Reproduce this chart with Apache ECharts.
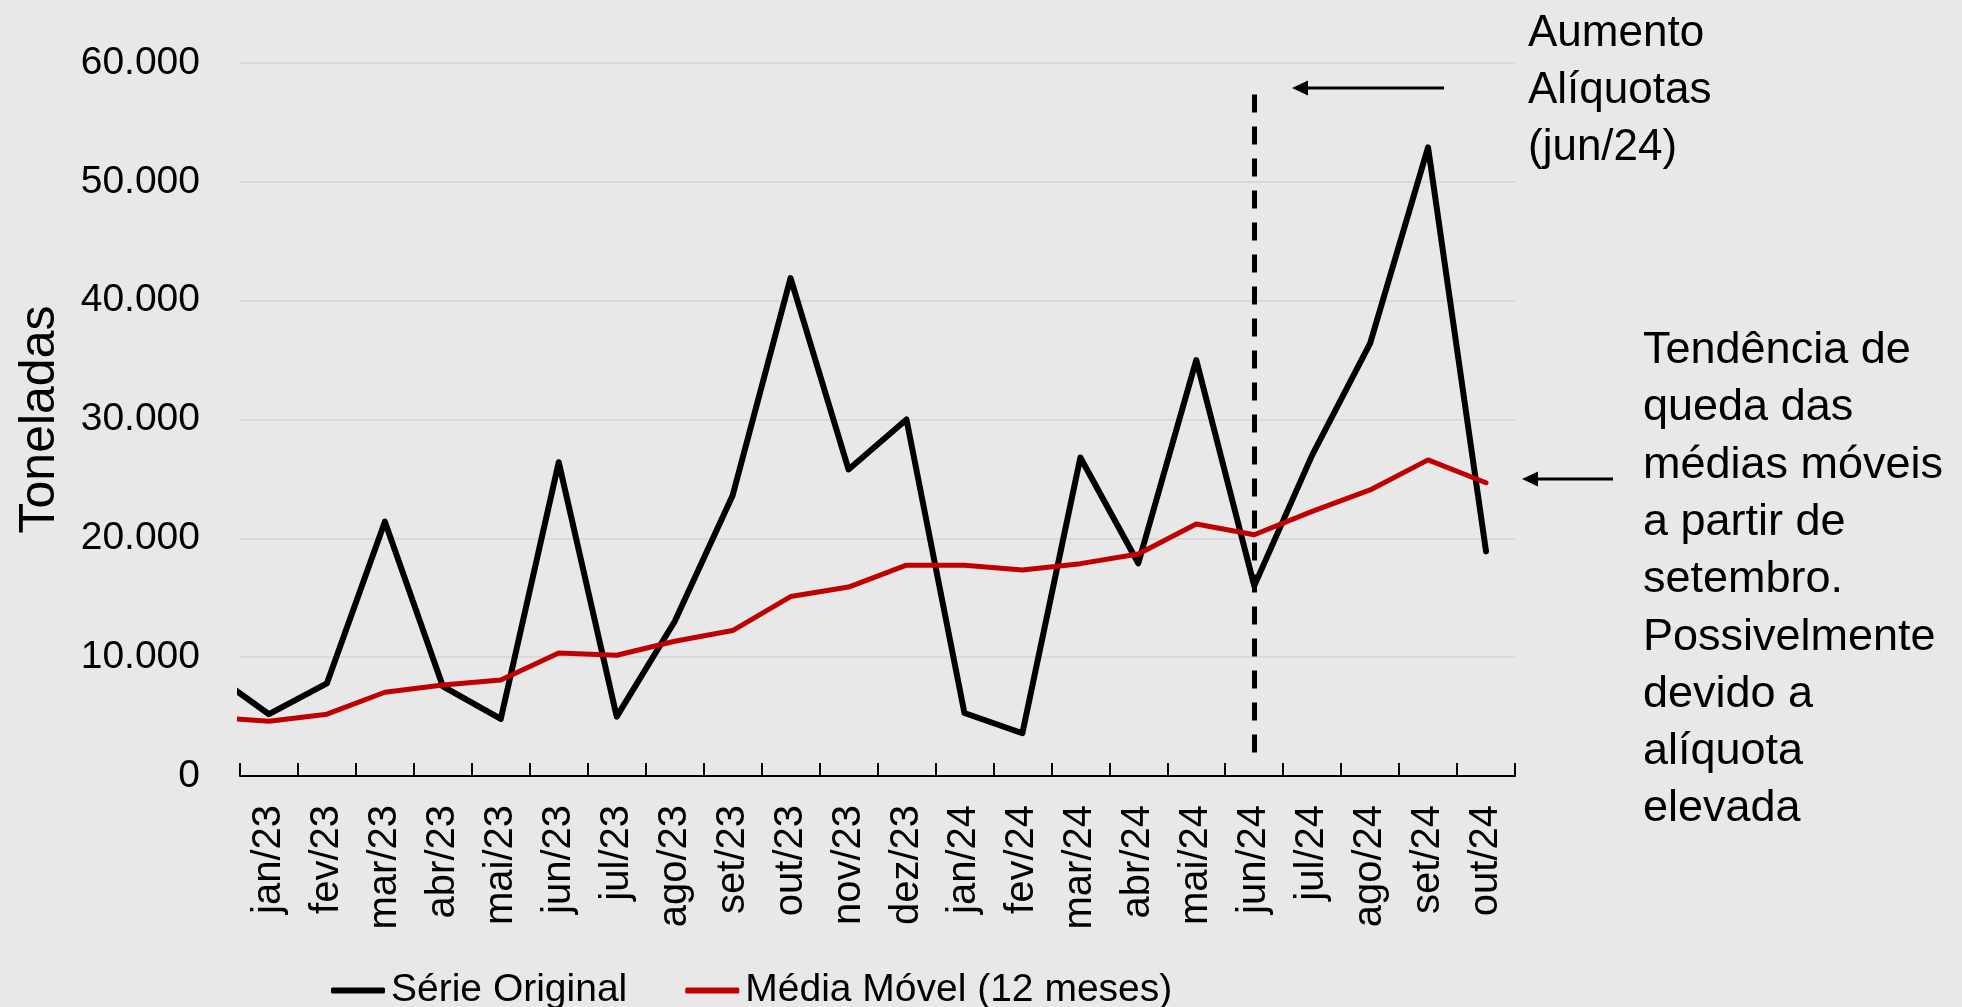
<!DOCTYPE html>
<html>
<head>
<meta charset="utf-8">
<script src="https://cdn.jsdelivr.net/npm/echarts@6/dist/echarts.min.js"></script>
<style>
  html, body { margin: 0; padding: 0; background: #e8e8e8; }
  #chart { width: 1962px; height: 1007px; }
</style>
</head>
<body>
<div id="chart"></div>
<script type="text/javascript">
  // categorias do eixo x
  var meses = ['jan/23','fev/23','mar/23','abr/23','mai/23','jun/23','jul/23','ago/23','set/23','out/23','nov/23','dez/23',
               'jan/24','fev/24','mar/24','abr/24','mai/24','jun/24','jul/24','ago/24','set/24','out/24'];
  // série original (toneladas)
  var serieOriginal = [5200, 7800, 21400, 7550, 4800, 26400, 5000, 13000, 23600, 41900, 25800, 30000,
                       5300, 3600, 26800, 17900, 35000, 16000, 27000, 36400, 52900, 18900];
  // média móvel 12 meses
  var mediaMovel = [4600, 5200, 7050, 7650, 8080, 10350, 10160, 11340, 12240, 15100, 15900, 17740,
                    17740, 17340, 17870, 18680, 21200, 20300, 22270, 24070, 26600, 24680];
  // mês anterior (dez/22), fica fora do gráfico e só aparece cortado na borda
  var mesAnterior = 'dez/22';
  var originalAnterior = 8700;
  var mediaAnterior = 4950;
  // eixo y
  var yTicks = [0, 10000, 20000, 30000, 40000, 50000, 60000];
  // linha tracejada do aumento de alíquotas (de cima para baixo)
  var mesAumento = 'jun/24';
  var linhaAumento = [57350, 860];

  var fonte = 'Liberation Sans';

  function fmt(v) {
    return String(v).replace(/\B(?=(\d{3})+(?!\d))/g, '.');
  }
  function pontos(anterior, valores) {
    var out = [[-1, anterior]];
    for (var i = 0; i < valores.length; i++) out.push([i, valores[i]]);
    return out;
  }
  var idxAumento = meses.indexOf(mesAumento);

  var chart = echarts.init(document.getElementById('chart'));
  var option = {
    backgroundColor: '#e8e8e8',
    animation: false,
    grid: { left: 240, right: 447, top: 63, bottom: 231 },
    legend: {
      left: 326, top: 966,
      itemWidth: 54, itemHeight: 6, itemGap: 58,
      icon: 'roundRect',
      textStyle: { fontFamily: fonte, fontSize: 39, color: '#000', padding: [0, 0, 0, 1] },
      data: ['Série Original', 'Média Móvel (12 meses)']
    },
    xAxis: [{
      type: 'category',
      data: meses,
      boundaryGap: true,
      axisLine: { show: true, onZero: false, lineStyle: { color: '#000', width: 2 } },
      axisTick: { show: true, inside: true, interval: 0, alignWithLabel: false, length: 13, lineStyle: { color: '#000', width: 2 } },
      axisLabel: { rotate: 90, margin: 29, fontFamily: fonte, fontSize: 40, color: '#000', interval: 0 },
      splitLine: { show: false }
    }, {
      type: 'value',
      min: -0.5, max: meses.length - 0.5,
      show: false
    }],
    yAxis: {
      type: 'value',
      min: yTicks[0], max: yTicks[yTicks.length - 1], interval: 10000,
      name: 'Toneladas',
      nameLocation: 'middle',
      nameGap: 175,
      nameTextStyle: { fontFamily: fonte, fontSize: 50, color: '#000' },
      axisLine: { show: false },
      axisTick: { show: false },
      axisLabel: { margin: 40, fontFamily: fonte, fontSize: 39, color: '#000', formatter: fmt },
      splitLine: { lineStyle: { color: '#d9d9d9', width: 2 } }
    },
    series: [{
      name: 'Série Original',
      type: 'line',
      xAxisIndex: 1,
      data: pontos(originalAnterior, serieOriginal),
      showSymbol: false,
      clip: true,
      color: '#000000',
      lineStyle: { color: '#000000', width: 6, join: 'round', cap: 'round' },
      z: 3
    }, {
      name: 'Média Móvel (12 meses)',
      type: 'line',
      xAxisIndex: 1,
      data: pontos(mediaAnterior, mediaMovel),
      showSymbol: false,
      clip: true,
      color: '#c00000',
      lineStyle: { color: '#c00000', width: 5, join: 'round', cap: 'round' },
      markLine: {
        silent: true,
        symbol: ['none', 'none'],
        label: { show: false },
        lineStyle: { color: '#000', width: 5, type: [18, 14] },
        emphasis: { disabled: true },
        data: [[{ coord: [idxAumento, linhaAumento[0]] }, { coord: [idxAumento, linhaAumento[1]] }]]
      },
      z: 4
    }],
    graphic: [
      // seta superior
      { type: 'line', shape: { x1: 1306, y1: 88, x2: 1444, y2: 88 }, style: { stroke: '#000', lineWidth: 3 } },
      { type: 'polygon', shape: { points: [[1292, 88], [1308, 80.5], [1308, 95.5]] }, style: { fill: '#000' } },
      { type: 'text', left: 1528, top: 5,
        style: { text: 'Aumento\nAlíquotas\n(jun/24)', fontFamily: fonte, fontSize: 44, lineHeight: 57, fill: '#000' } },
      // seta lateral
      { type: 'line', shape: { x1: 1536, y1: 479, x2: 1613, y2: 479 }, style: { stroke: '#000', lineWidth: 3 } },
      { type: 'polygon', shape: { points: [[1522, 479], [1538, 471.5], [1538, 486.5]] }, style: { fill: '#000' } },
      { type: 'text', left: 1643, top: 322,
        style: { text: 'Tendência de\nqueda das\nmédias móveis\na partir de\nsetembro.\nPossivelmente\ndevido a\nalíquota\nelevada',
                 fontFamily: fonte, fontSize: 45, lineHeight: 57.3, fill: '#000' } }
    ]
  };
  chart.setOption(option);
</script>
</body>
</html>
